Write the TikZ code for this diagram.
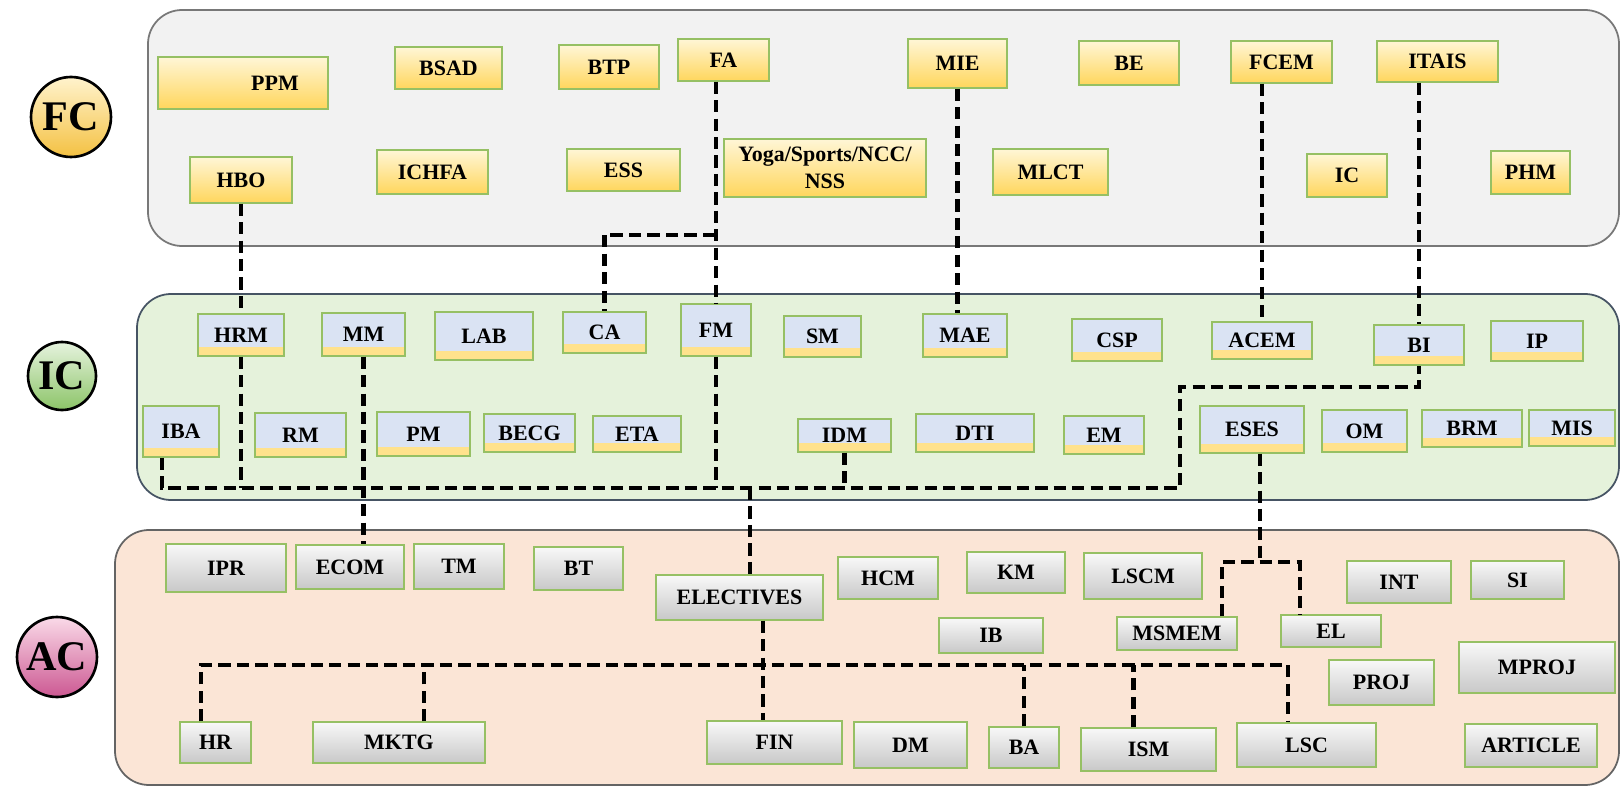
\documentclass[tikz,border=0pt]{standalone}
\usepackage{fontspec}
\setmainfont{Liberation Serif}
\usepackage{tikz}
\usetikzlibrary{calc}
\usetikzlibrary{fit}
\definecolor{boxgreen}{RGB}{150,192,100}
\definecolor{fctop}{RGB}{255,246,214}
\definecolor{fcbot}{RGB}{255,214,92}
\definecolor{icblue}{RGB}{218,227,243}
\definecolor{icstripe}{RGB}{255,226,140}
\definecolor{actop}{RGB}{248,248,248}
\definecolor{acbot}{RGB}{200,200,200}
\definecolor{fcband}{RGB}{242,242,242}
\definecolor{icband}{RGB}{229,242,219}
\definecolor{acband}{RGB}{251,229,214}
\definecolor{fcedge}{RGB}{120,120,120}
\definecolor{icedge}{RGB}{70,84,100}
\definecolor{acedge}{RGB}{100,100,100}
\definecolor{fcctop}{RGB}{255,243,205}
\definecolor{fccbot}{RGB}{244,193,66}
\definecolor{icctop}{RGB}{230,243,222}
\definecolor{iccbot}{RGB}{140,196,104}
\definecolor{acctop}{RGB}{250,218,232}
\definecolor{accbot}{RGB}{204,88,146}
\tikzstyle{every node}=[font=\bfseries\fontsize{12.5}{15}\selectfont]
\tikzstyle{coursebox}=[draw=boxgreen,line width=0.7pt,inner sep=0pt]
\tikzstyle{fcbox}=[coursebox,top color=fctop,bottom color=fcbot]
\tikzstyle{icbox}=[coursebox,fill=icblue,path picture={\fill[icstripe] (path picture bounding box.south west) rectangle ([yshift=0.19cm]path picture bounding box.south east);}]
\tikzstyle{acbox}=[coursebox,top color=actop,bottom color=acbot]
\tikzstyle{band}=[line width=1pt,rounded corners=0.68cm]
\tikzstyle{tier}=[circle,draw=black,line width=1.5pt,inner sep=0pt,font=\bfseries\fontsize{24}{26}\selectfont]
\tikzstyle{link}=[line width=2.4pt,dash pattern=on 7pt off 3.5pt]

\begin{document}
\begin{tikzpicture}[x=0.02cm,y=-0.02cm]
\useasboundingbox (0,0) rectangle (1623,787);
% bands
\draw[band,draw=fcedge,fill=fcband] (148,10) rectangle (1619,246);
\draw[band,draw=icedge,fill=icband] (137,294) rectangle (1619,500);
\draw[band,draw=acedge,fill=acband] (115,530) rectangle (1619,785);
% tiers
\node[tier,minimum size=1.6cm,top color=fcctop,bottom color=fccbot] (fc) at (71,117) {FC};
\node[tier,minimum size=1.36cm,top color=icctop,bottom color=iccbot] (ic) at (62,376) {IC};
\node[tier,minimum size=1.6cm,top color=acctop,bottom color=accbot] (ac) at (57,657) {AC};
% FC courses
\node[fcbox,fit={(158,57) (328,109)},label={[xshift=0.64cm]center:PPM}] (ppm) {};
\node[fcbox,fit={(395,47) (502,89)},label=center:BSAD] (bsad) {};
\node[fcbox,fit={(559,45) (659,89)},label=center:BTP] (btp) {};
\node[fcbox,fit={(678,39) (769,81)},label=center:FA] (fa) {};
\node[fcbox,fit={(908,39) (1007,88)},label=center:MIE] (mie) {};
\node[fcbox,fit={(1079,41) (1179,85)},label=center:BE] (be) {};
\node[fcbox,fit={(1231,41) (1332,83)},label=center:FCEM] (fcem) {};
\node[fcbox,fit={(1377,41) (1498,82)},label=center:ITAIS] (itais) {};
\node[fcbox,fit={(190,157) (292,203)},label=center:HBO] (hbo) {};
\node[fcbox,fit={(377,150) (488,194)},label=center:ICHFA] (ichfa) {};
\node[fcbox,fit={(567,149) (680,191)},label=center:ESS] (ess) {};
\node[fcbox,fit={(724,139) (926,197)},label={[align=center]center:Yoga/Sports/NCC/\\NSS}] (yoga) {};
\node[fcbox,fit={(993,149) (1108,195)},label=center:MLCT] (mlct) {};
\node[fcbox,fit={(1307,154) (1387,197)},label=center:IC] (icfc) {};
\node[fcbox,fit={(1491,151) (1570,194)},label=center:PHM] (phm) {};
% IC courses
\node[icbox,fit={(198,314) (284,356)},label=center:HRM] (hrm) {};
\node[icbox,fit={(322,313) (405,356)},label=center:MM] (mm) {};
\node[icbox,fit={(435,312) (533,360)},label=center:LAB] (lab) {};
\node[icbox,fit={(563,312) (646,353)},label=center:CA] (ca) {};
\node[icbox,fit={(681,304) (751,356)},label=center:FM] (fm) {};
\node[icbox,fit={(784,316) (861,357)},label=center:SM] (sm) {};
\node[icbox,fit={(923,314) (1007,357)},label=center:MAE] (mae) {};
\node[icbox,fit={(1072,319) (1162,361)},label=center:CSP] (csp) {};
\node[icbox,fit={(1212,322) (1312,359)},label=center:ACEM] (acem) {};
\node[icbox,fit={(1374,325) (1464,365)},label=center:BI] (bi) {};
\node[icbox,fit={(1491,321) (1583,361)},label=center:IP] (ip) {};
\node[icbox,fit={(143,406) (219,457)},label=center:IBA] (iba) {};
\node[icbox,fit={(255,413) (346,457)},label=center:RM] (rm) {};
\node[icbox,fit={(377,412) (470,456)},label=center:PM] (pm) {};
\node[icbox,fit={(484,414) (575,452)},label=center:BECG] (becg) {};
\node[icbox,fit={(593,416) (681,452)},label=center:ETA] (eta) {};
\node[icbox,fit={(798,419) (891,452)},label=center:IDM] (idm) {};
\node[icbox,fit={(916,414) (1034,452)},label=center:DTI] (dti) {};
\node[icbox,fit={(1064,416) (1144,454)},label=center:EM] (em) {};
\node[icbox,fit={(1200,406) (1304,453)},label=center:ESES] (eses) {};
\node[icbox,fit={(1322,410) (1407,452)},label=center:OM] (om) {};
\node[icbox,fit={(1422,410) (1522,447)},label=center:BRM] (brm) {};
\node[icbox,fit={(1529,410) (1615,446)},label=center:MIS] (mis) {};
% AC courses
\node[acbox,fit={(166,544) (286,592)},label=center:IPR] (ipr) {};
\node[acbox,fit={(296,545) (404,589)},label=center:ECOM] (ecom) {};
\node[acbox,fit={(414,544) (504,589)},label=center:TM] (tm) {};
\node[acbox,fit={(534,547) (623,590)},label=center:BT] (bt) {};
\node[acbox,fit={(656,575) (823,620)},label=center:ELECTIVES] (electives) {};
\node[acbox,fit={(838,557) (938,599)},label=center:HCM] (hcm) {};
\node[acbox,fit={(967,552) (1065,593)},label=center:KM] (km) {};
\node[acbox,fit={(1084,553) (1202,599)},label=center:LSCM] (lscm) {};
\node[acbox,fit={(1347,561) (1451,603)},label=center:INT] (int) {};
\node[acbox,fit={(1471,561) (1564,599)},label=center:SI] (si) {};
\node[acbox,fit={(939,618) (1043,653)},label=center:IB] (ib) {};
\node[acbox,fit={(1117,617) (1237,650)},label=center:MSMEM] (msmem) {};
\node[acbox,fit={(1281,615) (1381,647)},label=center:EL] (el) {};
\node[acbox,fit={(1329,660) (1434,705)},label=center:PROJ] (proj) {};
\node[acbox,fit={(1459,642) (1615,693)},label=center:MPROJ] (mproj) {};
\node[acbox,fit={(180,722) (251,763)},label=center:HR] (hr) {};
\node[acbox,fit={(313,722) (485,763)},label=center:MKTG] (mktg) {};
\node[acbox,fit={(707,721) (842,764)},label=center:FIN] (fin) {};
\node[acbox,fit={(854,722) (967,768)},label=center:DM] (dm) {};
\node[acbox,fit={(989,727) (1059,768)},label=center:BA] (ba) {};
\node[acbox,fit={(1081,728) (1216,771)},label=center:ISM] (ism) {};
\node[acbox,fit={(1237,723) (1376,767)},label=center:LSC] (lsc) {};
\node[acbox,fit={(1465,724) (1597,767)},label=center:ARTICLE] (article) {};
% FC -> IC links
\coordinate (fajoin) at (715,235);
\draw[link] (hbo.south) -- (hbo.south |- hrm.north);
\draw[link] (fm.north |- fa.south) -- (fm.north);
\draw[link] (fajoin) -| (ca.north);
\draw[link] (mie.south) -- (mie.south |- mae.north);
\draw[link] (fcem.south -| acem.north) -- (acem.north);
\draw[link] (itais.south -| bi.north) -- (bi.north);
% IC bus
\coordinate (ibafoot) at ($(iba.south west)!0.25!(iba.south east)$);
\coordinate (icbusr) at (1180,488);
\coordinate (bibend) at (1180,387);
\coordinate (eljoin) at (750,488);
\draw[link] (ibafoot) -- (ibafoot |- icbusr) -- (icbusr) -- (bibend) -| (bi.south);
\draw[link] (hrm.south) -- (hrm.south |- icbusr);
\draw[link] (fm.south) -- (fm.south |- icbusr);
\draw[link] (idm.south) -- (idm.south |- icbusr);
\draw[link] (eljoin) -- (eljoin |- electives.north);
\draw[link] (mm.south) -- (mm.south |- ecom.north);
% ESES split
\coordinate (esesjoin) at (1260,562);
\coordinate (msmemtop) at ($(msmem.north west)!0.87!(msmem.north east)$);
\coordinate (eltop) at ($(el.north west)!0.19!(el.north east)$);
\draw[link] (esesjoin |- eses.south) -- (esesjoin);
\draw[link] (msmemtop) |- (esesjoin) -| (eltop);
% electives bus
\coordinate (acjoin) at (763,665);
\coordinate (hrtop) at ($(hr.north west)!0.3!(hr.north east)$);
\coordinate (mktgtop) at ($(mktg.north west)!0.645!(mktg.north east)$);
\coordinate (ismtop) at ($(ism.north west)!0.39!(ism.north east)$);
\coordinate (lsctop) at ($(lsc.north west)!0.37!(lsc.north east)$);
\draw[link] (acjoin |- electives.south) -- (acjoin |- fin.north);
\draw[link] (hrtop) |- (acjoin) -| (lsctop);
\draw[link] (mktgtop) -- (mktgtop |- acjoin);
\draw[link] (ba.north) -- (ba.north |- acjoin);
\draw[link] (ismtop) -- (ismtop |- acjoin);
\end{tikzpicture}
\end{document}
